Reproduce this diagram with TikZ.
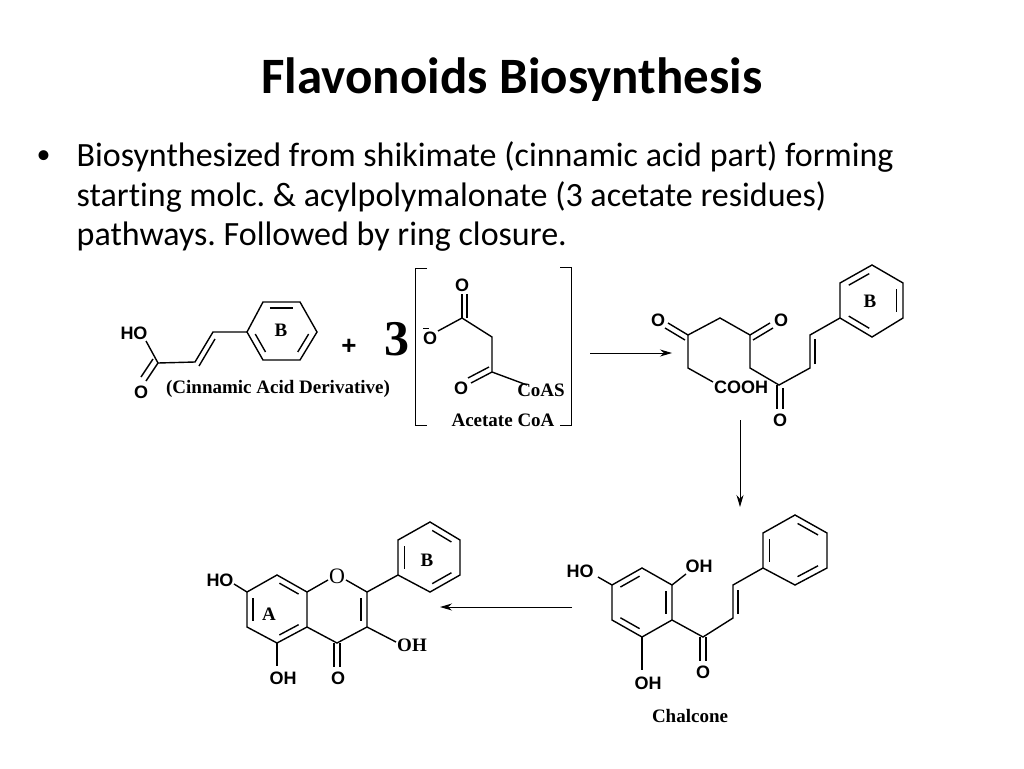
\documentclass[tikz,border=0pt]{standalone}
\usepackage{fontspec}
\setmainfont[Ligatures=NoCommon]{Carlito}
\newfontfamily\myarial{Liberation Sans}
\newfontfamily\mytnr{Liberation Serif}
\usetikzlibrary{calc,arrows.meta}
\begin{document}
\frenchspacing
\begin{tikzpicture}[x=1pt,y=-1pt,line width=1.4pt,
  sa/.style={font=\myarial\bfseries\fontsize{18}{18}\selectfont,inner sep=0pt},
  sr/.style={font=\mytnr\bfseries\fontsize{19}{19}\selectfont,inner sep=0pt},
  arr/.style={line width=1pt,-{Stealth[length=12pt,width=7pt]}}]
\useasboundingbox (0,0) rectangle (1024,768);
\newcommand\inner[3]{% center, a, b
  \path ($(#1)!0.8!(#2)$) coordinate (ip) ($(#1)!0.8!(#3)$) coordinate (iq);
  \draw ($(ip)!0.1!(iq)$) -- ($(iq)!0.1!(ip)$);}
\newcommand\hex[6]{\draw (#1)--(#2)--(#3)--(#4)--(#5)--(#6)--cycle;}
% title & text
\node (title) at (512,80) {\fontsize{51}{51}\selectfont\bfseries Flavonoids Biosynthesis};
\node[anchor=west,inner sep=0pt] (bul) at (36,157) {\fontsize{28}{28}\selectfont •};
\node[anchor=west,inner sep=0pt] (l1) at (76,157) {\fontsize{34}{34}\selectfont Biosynthesized from shikimate (cinnamic acid part) forming};
\node[anchor=west,inner sep=0pt] (l2) at (76,197) {\fontsize{34}{34}\selectfont starting molc. \& acylpolymalonate (3 acetate residues)};
\node[anchor=west,inner sep=0pt] (l3) at (76,237) {\fontsize{34}{34}\selectfont pathways. Followed by ring closure.};
% cinnamic acid
\coordinate (a1) at (247,332);\coordinate (a2) at (263,302);\coordinate (a3) at (300,302);
\coordinate (a4) at (317,332);\coordinate (a5) at (300,360);\coordinate (a6) at (263,360);
\coordinate (ac) at (282,331);
\hex{a1}{a2}{a3}{a4}{a5}{a6}
\inner{ac}{a2}{a3}\inner{ac}{a4}{a5}\inner{ac}{a6}{a1}
\node[sr] at (281,330) {B};
\draw (146,341)--(158,363)--(195,362)--(213,332)--(a1);
\draw (199,366)--(215,339);
\draw (158,363)--(146,381);\draw (153,359)--(141,377);
\node[sa] at (134,333) {HO};
\node[sa] at (141,392) {O};
\node[sr] at (278,389) {(Cinnamic Acid Derivative)};
\node[font=\myarial\bfseries\fontsize{26}{26}\selectfont] at (349,347) {+};
\node[font=\mytnr\bfseries\fontsize{50}{50}\selectfont] at (397,339) {3};
% bracket
\draw[line width=1pt] (427,268)--(415,268)--(415,425)--(427,425);
\draw[line width=1pt] (560,267)--(571,267)--(571,425)--(560,425);
\node[sa] at (430,338) {O};
\draw[line width=1pt] (423,328)--(429,328);
\draw (438,331)--(462,318)--(492,337)--(492,372)--(527,385);
\draw (462,318)--(462,294);\draw (467,318)--(467,294);
\draw (492,372)--(471,383);\draw (489,367)--(468,378);
\node[sa] at (462,285) {O};
\node[sa] at (461,388) {O};
\node[sr] at (541,390) {CoAS};
\node[sr] at (503,420) {Acetate CoA};
\draw[arr] (590,353)--(672,353);
% triketide
\coordinate (b1) at (840,283);\coordinate (b2) at (872,265);\coordinate (b3) at (903,283);
\coordinate (b4) at (903,318);\coordinate (b5) at (872,337);\coordinate (b6) at (840,318);
\coordinate (bc) at (871,301);
\hex{b1}{b2}{b3}{b4}{b5}{b6}
\inner{bc}{b1}{b2}\inner{bc}{b3}{b4}\inner{bc}{b5}{b6}
\node[sr] at (870,301) {B};
\draw (713,382)--(688,368)--(688,335)--(720,318)--(750,335)--(750,368)--(779,385)--(810,368)--(810,335)--(b6);
\draw (688,335)--(668,323);\draw (685,340)--(665,328);
\draw (750,335)--(770,323);\draw (753,340)--(773,328);
\draw (777,385)--(777,409);\draw (783,388)--(783,409);
\draw (815,364)--(815,339);
\node[sa] at (658,320) {O};
\node[sa] at (781,320) {O};
\node[sa] at (741,387) {COOH};
\node[sa] at (780,420) {O};
\draw[arr] (740,420)--(740,507);
% chalcone
\coordinate (c1) at (612,585);\coordinate (c2) at (642,568);\coordinate (c3) at (672,585);
\coordinate (c4) at (672,620);\coordinate (c5) at (642,637);\coordinate (c6) at (612,620);
\coordinate (cc) at (642,602);
\hex{c1}{c2}{c3}{c4}{c5}{c6}
\inner{cc}{c1}{c2}\inner{cc}{c3}{c4}\inner{cc}{c5}{c6}
\coordinate (d1) at (763,568);\coordinate (d2) at (763,533);\coordinate (d3) at (795,515);
\coordinate (d4) at (827,533);\coordinate (d5) at (827,568);\coordinate (d6) at (795,585);
\coordinate (dc) at (795,550);
\hex{d1}{d2}{d3}{d4}{d5}{d6}
\inner{dc}{d1}{d2}\inner{dc}{d3}{d4}\inner{dc}{d5}{d6}
\draw (c1)--(598,577);\draw (c3)--(686,574);\draw (c5)--(642,670);
\draw (c4)--(703,637)--(733,618)--(733,585)--(d1);
\draw (738,614)--(738,590);
\draw (700,637)--(700,661);\draw (706,637)--(706,661);
\node[sa] at (580,571) {HO};
\node[sa] at (699,566) {OH};
\node[sa] at (648,683) {OH};
\node[sa] at (703,672) {O};
\node[sr] at (690,716) {Chalcone};
\draw[arr] (572,607)--(440,607);
% flavonol
\coordinate (f1) at (247,592);\coordinate (f2) at (277,575);\coordinate (f3) at (307,592);
\coordinate (f4) at (307,627);\coordinate (f5) at (277,643);\coordinate (f6) at (247,627);
\coordinate (fc) at (277,609);
\coordinate (fo) at (337,575);\coordinate (g2) at (367,592);\coordinate (g3) at (367,627);
\coordinate (g4) at (337,643);\coordinate (gc) at (337,609);
\hex{f1}{f2}{f3}{f4}{f5}{f6}
\inner{fc}{f2}{f3}\inner{fc}{f6}{f1}\inner{fc}{f4}{f5}
\draw (f3)--(328,580);\draw (346,580)--(g2)--(g3)--(g4)--(f4);
\inner{gc}{g2}{g3}
\coordinate (h1) at (398,575);\coordinate (h2) at (398,540);\coordinate (h3) at (430,522);
\coordinate (h4) at (460,540);\coordinate (h5) at (460,575);\coordinate (h6) at (430,592);
\coordinate (hc) at (429,557);
\hex{h1}{h2}{h3}{h4}{h5}{h6}
\inner{hc}{h1}{h2}\inner{hc}{h3}{h4}\inner{hc}{h5}{h6}
\draw (g2)--(h1);
\draw (f1)--(234,584);\draw (f5)--(277,666);\draw (g3)--(396,642);
\draw (334,643)--(334,667);\draw (340,643)--(340,667);
\node[sr,font=\mytnr\fontsize{22}{22}\selectfont] at (337,576) {O};
\node[sa] at (220,580) {HO};
\node[sr] at (427,560) {B};
\node[sr] at (269,614) {A};
\node[sr] at (412,645) {OH};
\node[sa] at (283,678) {OH};
\node[sa] at (338,678) {O};
\end{tikzpicture}
\end{document}
